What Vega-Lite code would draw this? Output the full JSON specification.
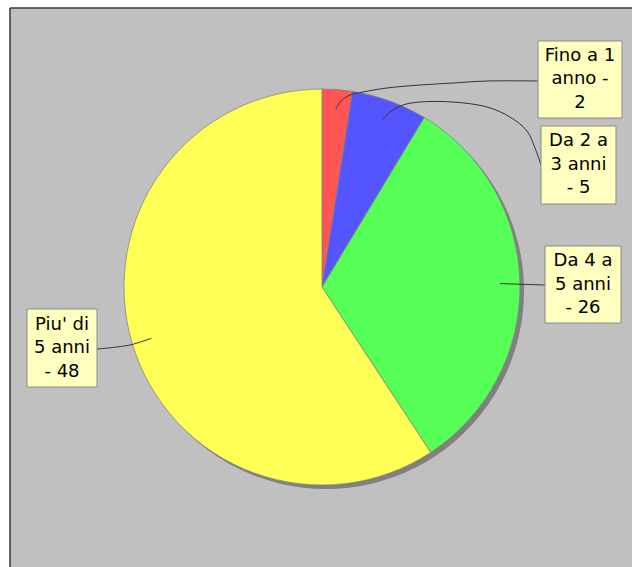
{
  "$schema": "https://vega.github.io/schema/vega-lite/v6.json",
  "width": 622,
  "height": 559,
  "padding": {"left": 10, "top": 8, "right": 0, "bottom": 0},
  "autosize": {"type": "none"},
  "background": "white",
  "config": {"view": {"fill": "#C0C0C0", "stroke": "#3a3a3a", "strokeWidth": 1.5, "strokeDash": [622, 1181, 559, 0]}},
  "datasets": {
    "slices": [
      {"category": "Fino a 1 anno", "value": 2},
      {"category": "Da 2 a 3 anni", "value": 5},
      {"category": "Da 4 a 5 anni", "value": 26},
      {"category": "Piu' di 5 anni", "value": 48}
    ],
    "labels": [
      {"category": "Fino a 1 anno", "text": ["Fino a 1", "anno -", "2"], "left": 1.0909, "right": 1.5152, "top": 1.2424, "bottom": 0.8535, "cx": 1.303, "cy": 1.048},
      {"category": "Da 2 a 3 anni", "text": ["Da 2 a", "3 anni", "- 5"], "left": 1.1061, "right": 1.4848, "top": 0.8131, "bottom": 0.4192, "cx": 1.2955, "cy": 0.6162},
      {"category": "Da 4 a 5 anni", "text": ["Da 4 a", "5 anni", "- 26"], "left": 1.1263, "right": 1.5101, "top": 0.2071, "bottom": -0.1818, "cx": 1.3182, "cy": 0.0126},
      {"category": "Piu' di 5 anni", "text": ["Piu' di", "5 anni", "- 48"], "left": -1.4899, "right": -1.1364, "top": -0.1111, "bottom": -0.5051, "cx": -1.3131, "cy": -0.3081}
    ],
    "leaders": [
      {"category": "Fino a 1 anno", "i": 0, "lx": 1.0909, "ly": 1.0404},
      {"category": "Fino a 1 anno", "i": 1, "lx": 0.8333, "ly": 1.0404},
      {"category": "Fino a 1 anno", "i": 2, "lx": 0.6616, "ly": 1.0303},
      {"category": "Fino a 1 anno", "i": 3, "lx": 0.4949, "ly": 1.0202},
      {"category": "Fino a 1 anno", "i": 4, "lx": 0.3283, "ly": 1.0051},
      {"category": "Fino a 1 anno", "i": 5, "lx": 0.2071, "ly": 0.9848},
      {"category": "Fino a 1 anno", "i": 6, "lx": 0.1414, "ly": 0.9697},
      {"category": "Fino a 1 anno", "i": 7, "lx": 0.0909, "ly": 0.9343},
      {"category": "Fino a 1 anno", "i": 8, "lx": 0.0697, "ly": 0.8975},
      {"category": "Da 2 a 3 anni", "i": 0, "lx": 1.1061, "ly": 0.6162},
      {"category": "Da 2 a 3 anni", "i": 1, "lx": 1.0758, "ly": 0.702},
      {"category": "Da 2 a 3 anni", "i": 2, "lx": 1.0354, "ly": 0.7879},
      {"category": "Da 2 a 3 anni", "i": 3, "lx": 0.9495, "ly": 0.8586},
      {"category": "Da 2 a 3 anni", "i": 4, "lx": 0.8333, "ly": 0.9091},
      {"category": "Da 2 a 3 anni", "i": 5, "lx": 0.6616, "ly": 0.9343},
      {"category": "Da 2 a 3 anni", "i": 6, "lx": 0.4949, "ly": 0.9343},
      {"category": "Da 2 a 3 anni", "i": 7, "lx": 0.4091, "ly": 0.9192},
      {"category": "Da 2 a 3 anni", "i": 8, "lx": 0.3434, "ly": 0.8838},
      {"category": "Da 2 a 3 anni", "i": 9, "lx": 0.3081, "ly": 0.846},
      {"category": "Da 4 a 5 anni", "i": 0, "lx": 1.1263, "ly": 0.0101},
      {"category": "Da 4 a 5 anni", "i": 1, "lx": 0.9, "ly": 0.0172},
      {"category": "Piu' di 5 anni", "i": 0, "lx": -1.1364, "ly": -0.3131},
      {"category": "Piu' di 5 anni", "i": 1, "lx": -0.9697, "ly": -0.2929},
      {"category": "Piu' di 5 anni", "i": 2, "lx": -0.8621, "ly": -0.2586}
    ]
  },
  "layer": [
    {
      "data": {"name": "slices"},
      "mark": {"type": "arc", "radius": 198, "fill": "#808080", "xOffset": 4, "yOffset": 4},
      "encoding": {
        "theta": {"field": "value", "type": "quantitative", "stack": true},
        "order": {"field": "value", "type": "quantitative"},
        "x": {"datum": 0, "type": "quantitative", "scale": {"domain": [-1.5758, 1.5657], "nice": false, "zero": false}, "axis": null},
        "y": {"datum": 0, "type": "quantitative", "scale": {"domain": [-1.4141, 1.4091], "nice": false, "zero": false}, "axis": null}
      }
    },
    {
      "data": {"name": "slices"},
      "mark": {"type": "arc", "radius": 198, "stroke": "#808080", "strokeWidth": 0.75},
      "encoding": {
        "theta": {"field": "value", "type": "quantitative", "stack": true},
        "order": {"field": "value", "type": "quantitative"},
        "color": {"field": "category", "type": "nominal", "scale": {"domain": ["Fino a 1 anno", "Da 2 a 3 anni", "Da 4 a 5 anni", "Piu' di 5 anni"], "range": ["#FF5555", "#5555FF", "#55FF55", "#FFFF55"]}, "legend": null},
        "x": {"datum": 0, "type": "quantitative"},
        "y": {"datum": 0, "type": "quantitative"}
      }
    },
    {
      "data": {"name": "leaders"},
      "mark": {"type": "line", "interpolate": "catmull-rom", "color": "#333333", "strokeWidth": 1},
      "encoding": {
        "x": {"field": "lx", "type": "quantitative"},
        "y": {"field": "ly", "type": "quantitative"},
        "detail": {"field": "category"},
        "order": {"field": "i", "type": "quantitative"}
      }
    },
    {
      "data": {"name": "labels"},
      "mark": {"type": "rect", "fill": "#909090", "xOffset": 3, "yOffset": 3},
      "encoding": {
        "x": {"field": "left", "type": "quantitative"},
        "x2": {"field": "right"},
        "y": {"field": "top", "type": "quantitative"},
        "y2": {"field": "bottom"}
      }
    },
    {
      "data": {"name": "labels"},
      "mark": {"type": "rect", "fill": "#FFFFC0", "stroke": "#8a8a8a", "strokeWidth": 1},
      "encoding": {
        "x": {"field": "left", "type": "quantitative"},
        "x2": {"field": "right"},
        "y": {"field": "top", "type": "quantitative"},
        "y2": {"field": "bottom"}
      }
    },
    {
      "data": {"name": "labels"},
      "mark": {"type": "text", "font": "DejaVu Sans", "fontSize": 18, "lineHeight": 23.5, "align": "center", "baseline": "middle", "dy": -23.5, "color": "#000000"},
      "encoding": {
        "x": {"field": "cx", "type": "quantitative"},
        "y": {"field": "cy", "type": "quantitative"},
        "text": {"field": "text"}
      }
    }
  ]
}
